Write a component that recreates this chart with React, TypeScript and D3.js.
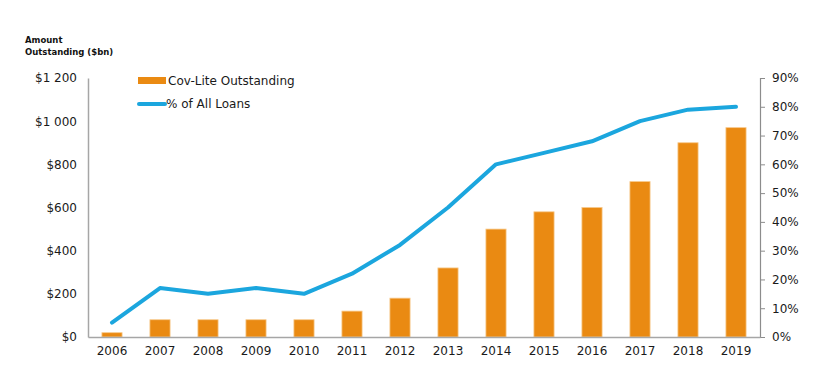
import { useEffect, useRef } from "react"
import * as d3 from "d3"

const years = ["2006", "2007", "2008", "2009", "2010", "2011", "2012", "2013", "2014", "2015", "2016", "2017", "2018", "2019"]
const covLite = [20, 80, 80, 80, 80, 120, 180, 320, 500, 580, 600, 720, 900, 970]
const pctLoans = [5, 17, 15, 17, 15, 22, 32, 45, 60, 64, 68, 75, 79, 80]
const leftTicks = [0, 200, 400, 600, 800, 1000, 1200]
const rightTicks = [0, 10, 20, 30, 40, 50, 60, 70, 80, 90]

const W = 820
const H = 369
const FONT = "'DejaVu Sans', Verdana, sans-serif"

const App = () => {
  const svgRef = useRef<SVGSVGElement>(null)

  useEffect(() => {
    const svg = d3.select(svgRef.current)
    svg.selectAll("*").remove()

    const left = 88
    const right = 760
    const top = 78
    const bottom = 337

    const x = d3.scaleBand().domain(years).range([left, right]).paddingInner(0.58).paddingOuter(0.29)
    const yL = d3.scaleLinear().domain([0, 1200]).range([bottom, top])
    const yR = d3.scaleLinear().domain([0, 90]).range([bottom, top])

    const fmtDollar = (d: number) => "$" + (d >= 1000 ? d3.format(",")(d).replace(",", " ") : d)

    // bars
    svg
      .append("g")
      .selectAll("rect")
      .data(covLite)
      .join("rect")
      .attr("x", (_, i) => x(years[i])!)
      .attr("y", (d) => yL(d))
      .attr("width", x.bandwidth())
      .attr("height", (d) => bottom - yL(d))
      .attr("fill", "#ea8a12")
      .attr("stroke", "#f7c98c")
      .attr("stroke-width", 0.8)

    // line
    const line = d3
      .line<number>()
      .x((_, i) => x(years[i])! + x.bandwidth() / 2)
      .y((d) => yR(d))

    svg
      .append("path")
      .datum(pctLoans)
      .attr("fill", "none")
      .attr("stroke", "#1ba6de")
      .attr("stroke-width", 4)
      .attr("stroke-linejoin", "round")
      .attr("stroke-linecap", "round")
      .attr("d", line)

    // left axis
    const gl = svg
      .append("g")
      .attr("transform", `translate(${left},0)`)
      .call(d3.axisLeft(yL).tickValues(leftTicks).tickSize(0).tickPadding(11).tickFormat((d) => fmtDollar(+d)))
    gl.select(".domain").attr("stroke", "#a6a6a6").attr("stroke-width", 1.5)
    gl.selectAll("text").style("font-family", FONT).style("font-size", "12px").attr("fill", "#1a1a1a")

    // right axis
    const gr = svg
      .append("g")
      .attr("transform", `translate(${right},0)`)
      .call(d3.axisRight(yR).tickValues(rightTicks).tickSize(5).tickPadding(7).tickFormat((d) => d + "%"))
    gr.select(".domain").attr("stroke", "#8c8c8c").attr("stroke-width", 1.2)
    gr.selectAll("line").attr("stroke", "#8c8c8c")
    gr.selectAll("text").style("font-family", FONT).style("font-size", "12px").attr("fill", "#1a1a1a")

    // bottom axis
    const gb = svg
      .append("g")
      .attr("transform", `translate(0,${bottom})`)
      .call(d3.axisBottom(x).tickSize(0).tickPadding(9))
    gb.select(".domain").attr("stroke", "#a6a6a6").attr("stroke-width", 1.5)
    gb.selectAll("text").style("font-family", FONT).style("font-size", "12px").attr("fill", "#1a1a1a")

    // axis title
    const title = svg
      .append("text")
      .style("font-family", FONT)
      .style("font-size", "8.5px")
      .style("font-weight", "bold")
      .attr("fill", "#111")
    title.append("tspan").attr("x", 25).attr("y", 43).text("Amount")
    title.append("tspan").attr("x", 25).attr("y", 55).text("Outstanding ($bn)")

    // legend
    const lg = svg.append("g")
    lg.append("rect").attr("x", 138).attr("y", 77).attr("width", 28).attr("height", 7).attr("fill", "#ea8a12")
    lg.append("text")
      .attr("x", 168)
      .attr("y", 85)
      .text("Cov-Lite Outstanding")
      .style("font-family", FONT)
      .style("font-size", "12px")
      .attr("fill", "#1a1a1a")
    lg.append("line")
      .attr("x1", 139)
      .attr("x2", 165)
      .attr("y1", 104)
      .attr("y2", 104)
      .attr("stroke", "#1ba6de")
      .attr("stroke-width", 4)
      .attr("stroke-linecap", "round")
    lg.append("text")
      .attr("x", 166)
      .attr("y", 108)
      .text("% of All Loans")
      .style("font-family", FONT)
      .style("font-size", "12px")
      .attr("fill", "#1a1a1a")
  }, [])

  return (
    <svg
      ref={svgRef}
      width={W}
      height={H}
      style={{ position: "absolute", left: 0, top: 0, background: "#fff" }}
    ></svg>
  )
}

export default App
